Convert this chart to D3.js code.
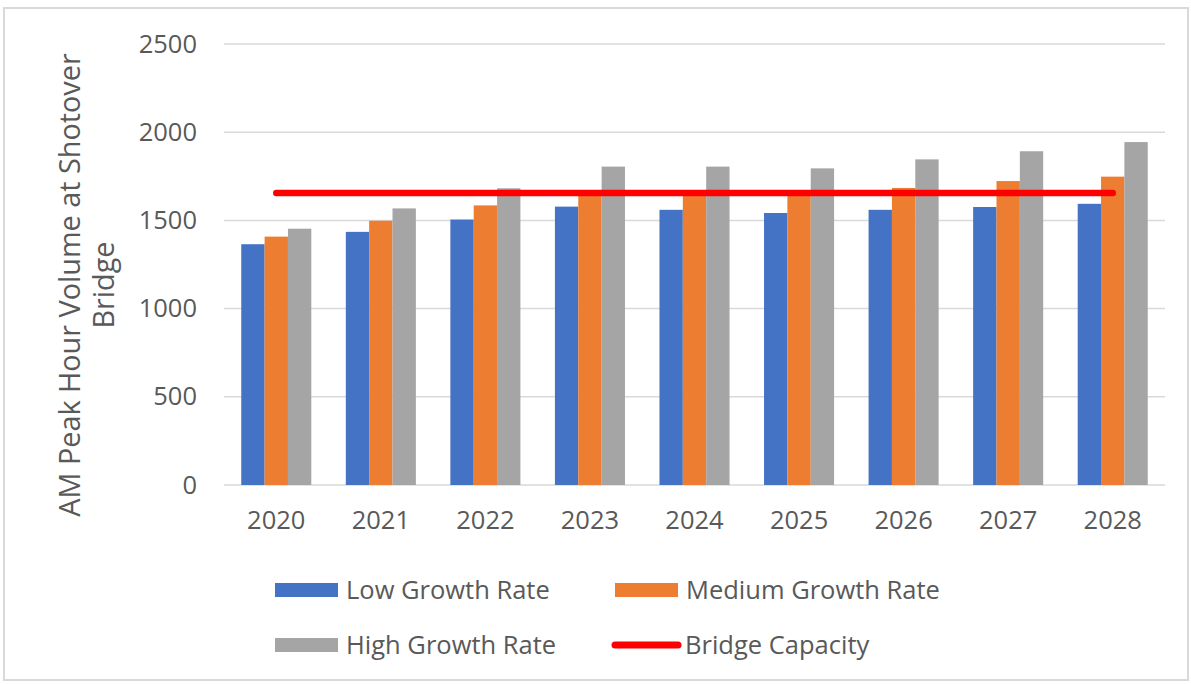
<!DOCTYPE html>
<html>
<head>
<meta charset="utf-8">
<script src="https://cdn.jsdelivr.net/npm/d3@7"></script>
<style>
  html, body { margin: 0; padding: 0; background: #fff; }
  svg { display: block; }
  text { font-family: "Open Sans", "Noto Sans", sans-serif; fill: #595959; }
</style>
</head>
<body>
<svg id="chart" width="1191" height="684"></svg>
<script>
const years = ["2020","2021","2022","2023","2024","2025","2026","2027","2028"];
const lowGrowth    = [1365, 1435, 1505, 1578, 1560, 1542, 1560, 1576, 1594];
const mediumGrowth = [1408, 1498, 1585, 1648, 1645, 1640, 1684, 1723, 1748];
const highGrowth   = [1453, 1568, 1682, 1805, 1805, 1795, 1846, 1892, 1944];
const bridgeCapacity = [1655, 1655, 1655, 1655, 1655, 1655, 1655, 1655, 1655];
const yTicks = [0, 500, 1000, 1500, 2000, 2500];
const seriesNames = ["Low Growth Rate", "Medium Growth Rate", "High Growth Rate", "Bridge Capacity"];
const seriesColors = ["#4472C4", "#ED7D31", "#A5A5A5", "#FF0000"];

const barSeries = [lowGrowth, mediumGrowth, highGrowth];
const svg = d3.select("#chart");

// frame
svg.append("rect").attr("x", 4).attr("y", 8).attr("width", 1184).attr("height", 672)
  .attr("fill", "none").attr("stroke", "#d9d9d9").attr("stroke-width", 2);

const plot = { left: 224, right: 1165, top: 44, bottom: 485 };

const x = d3.scaleBand().domain(years).range([plot.left, plot.right])
  .paddingInner(0.33).paddingOuter(0.165);
const xs = d3.scaleBand().domain(d3.range(barSeries.length)).range([0, x.bandwidth()]);
const y = d3.scaleLinear().domain([0, 2500]).range([plot.bottom, plot.top]);

// gridlines
svg.append("g").selectAll("line").data(yTicks).join("line")
  .attr("x1", plot.left).attr("x2", plot.right)
  .attr("y1", d => y(d)).attr("y2", d => y(d))
  .attr("stroke", "#d9d9d9").attr("stroke-width", 1.5);

// y axis labels
const yAxis = d3.axisLeft(y).tickValues(yTicks).tickFormat(d3.format("d")).tickSize(0).tickPadding(0);
const yg = svg.append("g").attr("transform", `translate(${plot.left - 27},0)`).call(yAxis);
yg.select(".domain").remove();
yg.selectAll("text").style("font-size", "25.5px").style("fill", "#595959")
  .style("font-family", "'Open Sans', sans-serif");

// bars
barSeries.forEach((vals, si) => {
  svg.append("g").selectAll("rect").data(vals).join("rect")
    .attr("x", (d, i) => x(years[i]) + xs(si))
    .attr("width", xs.bandwidth())
    .attr("y", d => y(d))
    .attr("height", d => y(0) - y(d))
    .attr("fill", seriesColors[si]);
});

// x axis labels
const xAxis = d3.axisBottom(x).tickSize(0).tickPadding(0);
const xg = svg.append("g").attr("transform", `translate(0,${plot.bottom + 26})`).call(xAxis);
xg.select(".domain").remove();
xg.selectAll("text").style("font-size", "25.5px").style("fill", "#595959")
  .style("font-family", "'Open Sans', sans-serif");

// capacity line
const line = d3.line().x((d, i) => x(years[i]) + x.bandwidth() / 2).y(d => y(d));
svg.append("path").datum(bridgeCapacity).attr("d", line)
  .attr("fill", "none").attr("stroke", seriesColors[3]).attr("stroke-width", 6.5)
  .attr("stroke-linecap", "round");

// y axis title
const yt = svg.append("text")
  .attr("transform", "translate(80,285) rotate(-90)")
  .attr("text-anchor", "middle").style("font-size", "28.8px");
yt.append("tspan").attr("x", 0).attr("y", 0).text("AM Peak Hour Volume at Shotover");
yt.append("tspan").attr("x", 0).attr("y", 34).text("Bridge");

// legend
const legendItems = [
  { name: seriesNames[0], color: seriesColors[0], type: "rect", x: 275, y: 590 },
  { name: seriesNames[1], color: seriesColors[1], type: "rect", x: 615, y: 590 },
  { name: seriesNames[2], color: seriesColors[2], type: "rect", x: 275, y: 645 },
  { name: seriesNames[3], color: seriesColors[3], type: "line", x: 612, y: 645 }
];
const lg = svg.append("g").selectAll("g").data(legendItems).join("g")
  .attr("transform", d => `translate(${d.x},${d.y})`);
lg.filter(d => d.type === "rect").append("rect")
  .attr("x", 0).attr("y", -7).attr("width", 63).attr("height", 14).attr("fill", d => d.color);
lg.filter(d => d.type === "line").append("line")
  .attr("x1", 3).attr("x2", 66).attr("y1", 0).attr("y2", 0)
  .attr("stroke", d => d.color).attr("stroke-width", 7).attr("stroke-linecap", "round");
lg.append("text").attr("x", d => d.type === "rect" ? 71 : 73).attr("y", 0)
  .attr("dy", "0.35em").style("font-size", "25.5px").text(d => d.name);
</script>
</body>
</html>
